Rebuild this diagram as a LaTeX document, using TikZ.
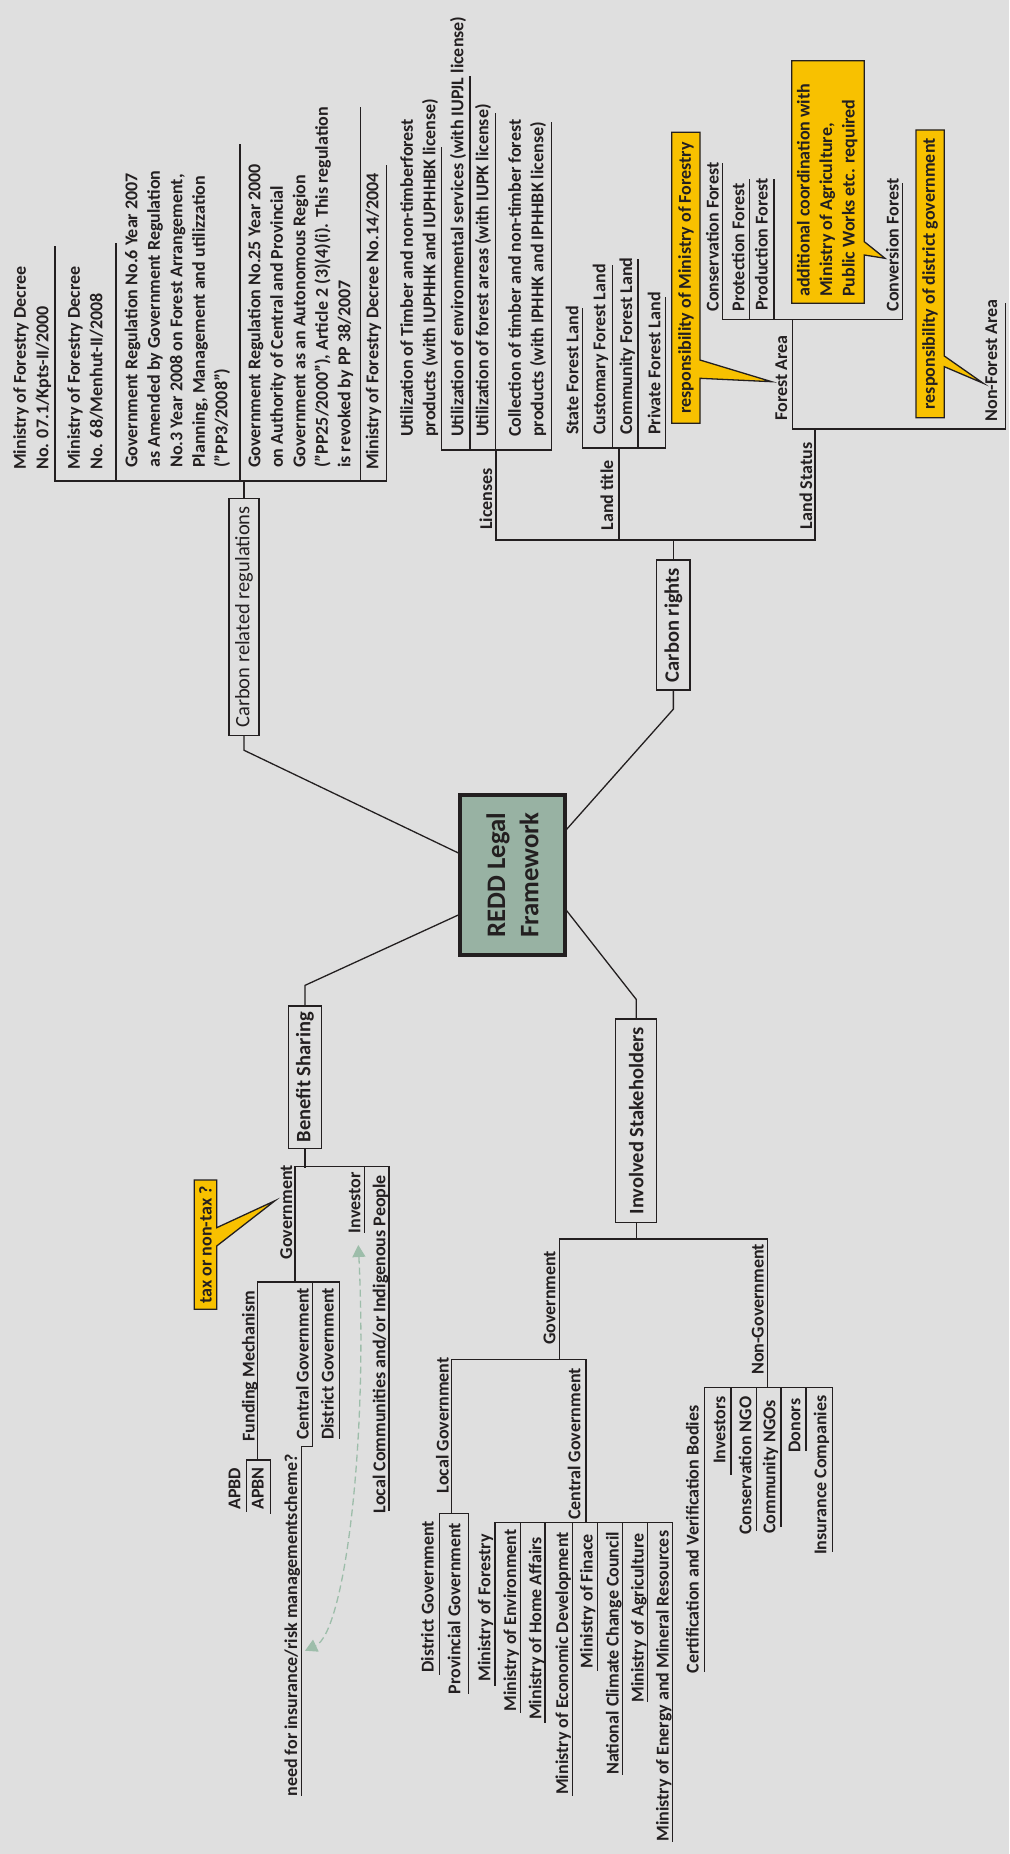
\documentclass[tikz,border=0pt]{standalone}
\usepackage{fontspec}
\setmainfont{Carlito}
\usetikzlibrary{arrows.meta,calc}
\definecolor{bgc}{RGB}{223,223,223}
\definecolor{ink}{RGB}{35,31,32}
\definecolor{reddc}{RGB}{152,178,163}
\definecolor{yel}{RGB}{248,193,0}
\definecolor{arrc}{RGB}{157,189,170}
\tikzset{
  ln/.style={line width=1.3pt, draw=ink, line cap=rect},
  lf/.style={rotate=90, anchor=south west, inner sep=0pt, align=left, text=ink,
    font=\fontsize{18}{22.5}\selectfont\bfseries},
  bx/.style={rotate=90, draw=ink, line width=1.3pt, inner sep=0pt, text=ink,
    font=\fontsize{20.5}{24}\selectfont\bfseries},
  callout/.style={fill=yel, draw=ink, line width=1.3pt, line join=miter},
  ctext/.style={rotate=90, inner sep=0pt, text=ink, align=left,
    font=\fontsize{18}{22.5}\selectfont\bfseries},
}
\newcommand\mmleaf[4]{\node[lf] (#1) at (#2,#3) {#4\strut};}
\newcommand\mmv[3]{\draw[ln] (#1,#2) -- (#1,#3);}
\newcommand\mmh[3]{\draw[ln] (#2,#1) -- (#3,#1);}
\begin{document}
\begin{tikzpicture}[x=1pt,y=-1pt]
\useasboundingbox (0,0) rectangle (1009,1854);
\fill[bgc] (0,0) rectangle (1009,1854);

% central node
\node[rotate=90, draw=ink, line width=4pt, fill=reddc, minimum width=160.6pt,
  minimum height=104.4pt, inner sep=0pt, align=center, text=ink,
  font=\fontsize{26.7}{33.3}\selectfont\bfseries] (redd) at (512.5,875) {REDD Legal\\Framework};

% ===== Carbon related regulations =====
\node[bx, font=\fontsize{20.5}{24}\selectfont, minimum width=237.2pt, minimum height=30pt] (crr) at (244,617) {Carbon related regulations};
\draw[ln] (crr.west) -- ++(0,14) -- ($(redd.north east)!0.366!(redd.north west)$);
\draw[ln] (crr.east) -- ++(0,-17);
\mmh{481}{55}{386.7}
\mmleaf{a1}{55.3}{470}{Ministry of Forestry Decree\\No. 07.1/Kpts-II/2000}
\mmleaf{a2}{109.3}{470}{Ministry of Forestry Decree\\No. 68/Menhut-II/2008}
\mmleaf{a3}{234.3}{468}{Government Regulation No.6 Year 2007\\as Amended by Government Regulation\\No.3 Year 2008 on Forest Arrangement,\\Planning, Management and utilizzation\\(”PP3/2008”)}
\mmleaf{a4}{357.3}{468}{Government Regulation No.25 Year 2000\\on Authority of Central and Provincial\\Government as an Autonomous Region\\(”PP25/2000”), Article 2 (3)(4)(i). This regulation\\is revoked by PP 38/2007}
\mmleaf{a5}{385.3}{470}{Ministry of Forestry Decree No.14/2004}
\mmv{55}{481}{247}
\mmv{116}{481}{244}
\mmv{240}{481}{145}
\mmv{360.7}{481}{108}
\mmv{386.7}{481}{166}

% ===== Carbon rights =====
\node[bx, minimum width=130pt, minimum height=33.3pt] (cr) at (673.35,625) {Carbon rights};
\draw[ln] (cr.west) -- ++(0,18.5) -- ($(redd.south east)!0.222!(redd.south west)$);
\draw[ln] (cr.east) -- ++(0,-20);
\mmh{540}{496}{815}
\mmleaf{lic}{499}{530}{Licenses}
\mmv{496}{540}{450}
\mmh{450}{441.7}{551.7}
\mmleaf{l1}{442.3}{437}{Utilization of Timber and non-timberforest\\products (with IUPHHK and IUPHHBK license)}
\mmleaf{l2}{470.3}{437}{Utilization of environmental services (with IUPJL license)}
\mmleaf{l3}{495.3}{437}{Utilization of forest areas (with IUPK license)}
\mmleaf{l4}{550.3}{437}{Collection of timber and non-timber forest\\products (with IPHHK and IPHHBK license)}
\mmv{441.7}{450}{148}
\mmv{470}{450}{77}
\mmv{495.7}{450}{114}
\mmv{551.7}{450}{122.7}
\mmleaf{lt}{620}{530.7}{Land title}
\mmv{619}{540}{448}
\mmh{448}{582.7}{665.7}
\mmleaf{lt1}{585.3}{435}{State Forest Land}
\mmleaf{lt2}{612.3}{435}{Customary Forest Land}
\mmleaf{lt3}{639}{435}{Community Forest Land}
\mmleaf{lt4}{667.3}{435}{Private Forest Land}
\mmv{582.7}{448}{309}
\mmv{612.7}{448}{265.7}
\mmv{638}{448}{260}
\mmv{665.7}{448}{297.7}
\mmleaf{ls}{819}{529.3}{Land Status}
\mmv{815}{540}{429}
\mmh{429}{792.7}{1005.7}
\mmleaf{fa}{794}{420.7}{Forest Area}
\mmv{792.7}{429}{319.3}
\mmh{319.3}{722.7}{902.7}
\mmleaf{f1}{725.6}{311.7}{Conservation Forest}
\mmleaf{f2}{751.3}{311.7}{Protection Forest}
\mmleaf{f3}{774.6}{311}{Production Forest}
\mmleaf{f4}{905.6}{311.7}{Conversion Forest}
\mmv{722.7}{319.3}{164}
\mmv{749.3}{319.3}{180}
\mmv{774}{319.3}{180}
\mmv{902.7}{319.3}{183.3}
\mmleaf{nfa}{1004}{421.7}{Non-Forest Area}
\mmv{1005.7}{429}{304}

% callouts (top)
\draw[callout] (671.7,132.3) -| (700,360) -- (771.7,381.7) -- (700,378.3) |- (671.7,423.3) -- cycle;
\node[ctext] (y1) at (685.85,277.8) {responsibility of Ministry of Forestry};
\draw[callout] (791.7,60.7) -| (864.3,241.7) -- (885,258.3) -- (864.3,255) |- (791.7,303.3) -- cycle;
\node[ctext, anchor=south west] (y2) at (861.6,297) {additional coordination with\\Ministry of Agriculture,\\Public Works etc. required\strut};
\draw[callout] (916,130) -| (944.3,356) -- (983.3,383.3) -- (944.3,366.7) |- (916,417.7) -- cycle;
\node[ctext] (y3) at (930.15,273.85) {responsibility of district government};

% ===== Benefit Sharing =====
\node[bx, minimum width=142.3pt, minimum height=33.4pt] (bs) at (305,1077.15) {Benefit Sharing};
\draw[ln] (bs.east) -- ++(0,-20) -- ($(redd.north east)!0.743!(redd.north west)$);
\draw[ln] (bs.west) -- ++(0,18.4);
\mmh{1166.7}{295}{389}
\mmleaf{bgov}{299}{1259.3}{Government}
\mmv{295}{1166.7}{1282}
\mmh{1282}{257.3}{339.3}
\mmleaf{fm}{261.6}{1441.7}{Funding Mechanism}
\mmv{257.3}{1282}{1460}
\mmh{1460}{246.7}{270.7}
\mmleaf{apbd}{247.3}{1510}{APBD}
\mmleaf{apbn}{270.6}{1510}{APBN}
\mmv{246.7}{1460}{1511.7}
\mmv{270.7}{1460}{1513}
\mmleaf{cg}{315.6}{1440}{Central Government}
\mmv{312.7}{1282}{1446.7}
\mmh{1446.7}{301.7}{312.7}
\mmleaf{need}{304}{1796.7}{need for insurance/risk managementscheme?}
\mmv{301.7}{1446.7}{1795}
\mmleaf{dg}{340.6}{1440}{District Government}
\mmv{339.3}{1282}{1438.3}
\mmleaf{inv}{367.3}{1233.3}{Investor}
\mmv{364.3}{1166.7}{1232.7}
\mmleaf{lc}{392.3}{1513.3}{Local Communities and/or Indigenous People}
\mmv{389}{1166.7}{1510}
\draw[callout] (194.3,1180) -| (216.7,1227.7) -- (275,1200.7) -- (216.7,1246) |- (194.3,1309.3) -- cycle;
\node[ctext] (y4) at (205.5,1244.65) {tax or non-tax ?};
\coordinate (da1) at (358.3,1245);
\coordinate (da2) at (305,1650.7);
\draw[draw=arrc, line width=1.3pt, dash pattern=on 7pt off 4pt,
  {Triangle[width=13pt,length=12pt]}-{Triangle[width=13pt,length=12pt]}]
  (da1) .. controls (368,1440) and (345,1632) .. (da2);

% ===== Involved Stakeholders =====
\node[bx, minimum width=203.7pt, minimum height=41pt] (is) at (636.2,1120.85) {Involved Stakeholders};
\draw[ln] (is.east) -- ++(0,-19) -- ($(redd.south east)!0.717!(redd.south west)$);
\draw[ln] (is.west) -- ++(0,16.3);
\mmh{1239}{559.3}{767.7}
\mmleaf{dgov}{562.3}{1345}{Government}
\mmv{559.3}{1239}{1359.3}
\mmh{1359.3}{451.7}{586}
\mmleaf{lg}{455.6}{1493.3}{Local Government}
\mmv{451.7}{1359.3}{1513.3}
\mmh{1513.3}{439.3}{468.3}
\mmleaf{dist}{440.6}{1672.7}{District Government}
\mmv{439.3}{1513.3}{1674.3}
\mmleaf{prov}{467.3}{1694.3}{Provincial Government}
\mmv{468.3}{1513.3}{1693.3}
\mmleaf{cgov}{587.3}{1520}{Central Government}
\mmv{586}{1359.3}{1522.7}
\mmh{1522.7}{495}{672.7}
\mmleaf{m1}{497.3}{1681.7}{Ministry of Forestry}
\mmv{495}{1522.7}{1685}
\mmleaf{m2}{523}{1711.7}{Ministry of Environment}
\mmv{520.7}{1522.7}{1712.3}
\mmleaf{m3}{548.3}{1720}{Ministry of Home Affairs}
\mmv{545}{1522.7}{1722.7}
\mmleaf{m4}{575}{1795}{Ministry of Economic Development}
\mmv{572.3}{1522.7}{1795}
\mmleaf{m5}{599.6}{1668.3}{Ministry of Finace}
\mmv{597.3}{1522.7}{1670.7}
\mmleaf{m6}{625.6}{1775}{National Climate Change Council}
\mmv{622.7}{1522.7}{1774}
\mmleaf{m7}{650.6}{1702.7}{Ministry of Agriculture}
\mmv{647.3}{1522.7}{1701.7}
\mmleaf{m8}{675.6}{1841.7}{Ministry of Energy and Mineral Resources}
\mmv{672.7}{1522.7}{1841.7}
\mmleaf{ngov}{770.6}{1375}{Non-Government}
\mmv{767.7}{1239}{1387.5}
\mmh{1387.5}{704.3}{832.7}
\mmleaf{n1}{705.6}{1673.3}{Certification and Verification Bodies}
\mmv{704.3}{1387.5}{1671}
\mmleaf{n2}{732.3}{1464}{Investors}
\mmv{731}{1387.5}{1474}
\mmleaf{n3}{758.3}{1535}{Conservation NGO}
\mmv{756.7}{1387.5}{1530.7}
\mmleaf{n4}{782.3}{1534}{Community NGOs}
\mmv{781}{1387.5}{1526}
\mmleaf{n5}{807.3}{1452.7}{Donors}
\mmv{806}{1387.5}{1450}
\mmleaf{n6}{833.3}{1555}{Insurance Companies}
\mmv{832.7}{1387.5}{1551.7}
\end{tikzpicture}
\end{document}
